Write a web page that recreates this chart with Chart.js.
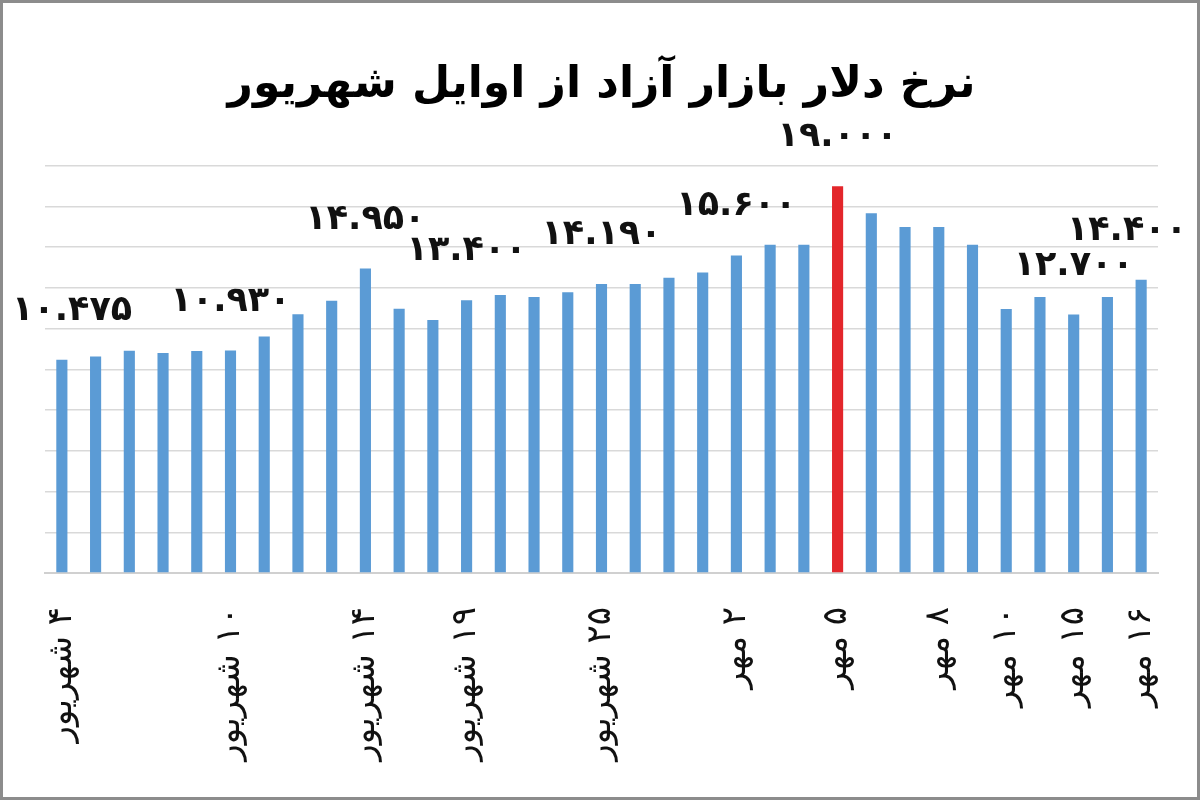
<!DOCTYPE html>
<html lang="fa">
<head>
  <meta charset="UTF-8">
  <title>نرخ دلار بازار آزاد از اوایل شهریور</title>
  <script src="https://cdn.jsdelivr.net/npm/chart.js"></script>
  <style>
    body {
      margin: 0;
      background: #fff;
    }
    #frame {
      position: absolute;
      left: 0;
      top: 0;
      width: 1200px;
      height: 800px;
      box-sizing: border-box;
      border: 3px solid #8c8c8c;
      background: #fff;
    }
  </style>
</head>
<body>
  <div id="frame">
    <canvas id="rateChart" dir="rtl"></canvas>
  </div>

  <script>
    // تاریخ‌ها (فقط برخی برچسب دارند)
    const dates = [
      "۴ شهریور", "", "", "", "", "۱۰ شهریور", "", "", "", "۱۴ شهریور", "",
      "", "۱۹ شهریور", "", "", "", "۲۵ شهریور", "", "", "", "۲ مهر", "",
      "", "۵ مهر", "", "", "۸ مهر", "", "۱۰ مهر", "", "۱۵ مهر", "", "۱۶ مهر"
    ];

    // نرخ دلار (تومان)
    const rates = [
      10475, 10630, 10910, 10800, 10900, 10930, 11620, 12710, 13370, 14950, 12980,
      12430, 13400, 13660, 13550, 13790, 14190, 14200, 14500, 14760, 15600, 16120,
      16120, 19000, 17670, 16990, 16990, 16120, 12970, 13550, 12700, 13550, 14400
    ];

    // برچسب مقادیر روی ستون‌ها
    const noteIdx = [0, 5, 9, 12, 16, 20, 23, 30, 32];
    const noteText = ["۱۰.۴۷۵", "۱۰.۹۳۰", "۱۴.۹۵۰", "۱۳.۴۰۰", "۱۴.۱۹۰", "۱۵.۶۰۰", "۱۹.۰۰۰", "۱۲.۷۰۰", "۱۴.۴۰۰"];

    const peak = rates.indexOf(Math.max(...rates));
    const barColors = rates.map((v, i) => i === peak ? "#e3262b" : "#5b9bd5");

    const FONT = "'DejaVu Sans', sans-serif";

    const valueNotes = {
      id: "valueNotes",
      afterDatasetsDraw(chart) {
        const ctx = chart.ctx;
        const bars = chart.getDatasetMeta(0).data;
        ctx.save();
        ctx.font = "bold 35px " + FONT;
        ctx.fillStyle = "#111";
        ctx.textAlign = "center";
        ctx.textBaseline = "middle";
        noteIdx.forEach((idx, k) => {
          const bar = bars[idx];
          const w = ctx.measureText(noteText[k]).width;
          let x = bar.x;
          x = Math.max(x, 9 + w / 2);
          x = Math.min(x, chart.width - 10 - w / 2);
          ctx.fillText(noteText[k], x, bar.y - 49);
        });
        ctx.restore();
      }
    };

    new Chart(document.getElementById("rateChart").getContext("2d"), {
      type: "bar",
      data: {
        labels: dates,
        datasets: [{
          data: rates,
          backgroundColor: barColors,
          barPercentage: 0.33,
          categoryPercentage: 1
        }]
      },
      options: {
        responsive: true,
        maintainAspectRatio: false,
        animation: false,
        layout: {
          padding: { left: 42, right: 39, top: 0, bottom: 0 }
        },
        scales: {
          y: {
            min: 0,
            max: 20000,
            ticks: { stepSize: 2000, display: false },
            grid: { color: "#d9d9d9", lineWidth: 1.5, drawTicks: false },
            border: { display: false }
          },
          x: {
            grid: { display: false, drawTicks: false },
            border: { display: true, color: "#d0d0d0", width: 2 },
            ticks: {
              autoSkip: false,
              minRotation: 90,
              maxRotation: 90,
              padding: 34,
              color: "#111",
              font: { family: FONT, size: 34 }
            },
            afterFit: s => {
              s.height = 224;
              s.paddingLeft = 0;
              s.paddingRight = 0;
            }
          }
        },
        plugins: {
          legend: { display: false },
          tooltip: { enabled: false },
          title: {
            display: true,
            text: "نرخ دلار بازار آزاد از اوایل شهریور",
            color: "#000",
            font: { family: FONT, size: 44, weight: "bold", lineHeight: 1.2 },
            padding: { top: 56, bottom: 54 }
          }
        }
      },
      plugins: [valueNotes]
    });
  </script>
</body>
</html>
